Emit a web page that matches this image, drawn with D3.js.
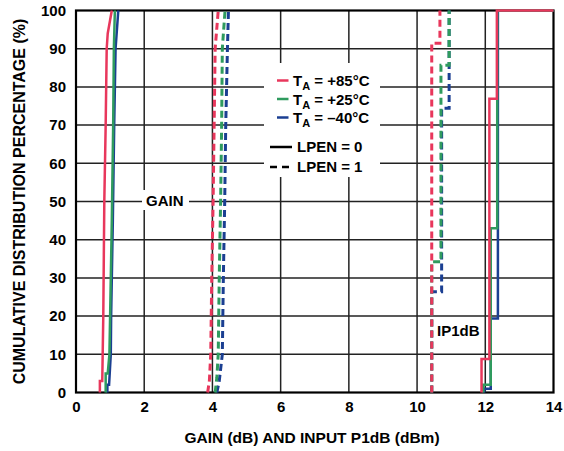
<!DOCTYPE html>
<html>
<head>
<meta charset="utf-8">
<script src="https://cdn.jsdelivr.net/npm/d3@7"></script>
<style>
  html, body { margin: 0; padding: 0; background: #fff; }
  svg { display: block; }
  text { font-family: "Liberation Sans", Arial, sans-serif; font-weight: bold; fill: #000; }
</style>
</head>
<body>
<div id="chart"></div>
<script>
// ---------- DATA ----------
const xTicks = [0, 2, 4, 6, 8, 10, 12, 14];
const yTicks = [0, 10, 20, 30, 40, 50, 60, 70, 80, 90, 100];

// GAIN, LPEN = 0 (solid)  [x (dB), cumulative %]
const gainLpen0_85 = [[0.70,0],[0.70,3],[0.77,3],[0.80,20],[0.83,50],[0.87,70],[0.90,90],[0.93,94],[1.00,97.5],[1.05,100]];
const gainLpen0_25 = [[0.87,0],[0.87,5],[0.93,5],[0.98,10],[1.00,20],[1.05,45],[1.09,70],[1.11,90],[1.14,100]];
const gainLpen0_m40 = [[0.92,0],[0.92,2],[0.97,2],[1.02,10],[1.03,20],[1.08,45],[1.12,70],[1.16,90],[1.24,100]];

// GAIN, LPEN = 1 (dashed)
const gainLpen1_85 = [[3.86,0],[3.91,3],[3.95,10],[3.98,30],[4.02,50],[4.05,70],[4.08,90],[4.17,100]];
const gainLpen1_25 = [[4.08,0],[4.13,4],[4.17,10],[4.20,30],[4.24,50],[4.27,70],[4.29,90],[4.37,100]];
const gainLpen1_m40 = [[4.13,0],[4.20,3],[4.29,10],[4.32,30],[4.36,50],[4.39,70],[4.44,90],[4.47,100]];

// IP1dB, LPEN = 1 (dashed)  [x (dBm), cumulative %]
const ip1Lpen1_85 = [[10.43,0],[10.43,91.4],[10.67,91.4],[10.67,100]];
const ip1Lpen1_25 = [[10.43,0],[10.43,34.2],[10.70,34.2],[10.70,85.7],[10.94,85.7],[10.94,100]];
const ip1Lpen1_m40 = [[10.43,0],[10.43,26.4],[10.72,26.4],[10.72,74.4],[10.94,74.4],[10.94,100]];

// IP1dB, LPEN = 0 (solid)
const ip1Lpen0_85 = [[11.89,0],[11.89,8.8],[12.12,8.8],[12.12,76.9],[12.34,76.9],[12.34,100],[14,100]];
const ip1Lpen0_25 = [[11.94,0],[11.94,2],[12.16,2],[12.16,43],[12.35,43],[12.35,100],[14,100]];
const ip1Lpen0_m40 = [[11.97,0],[11.97,1],[12.16,1],[12.16,19.4],[12.37,19.4],[12.37,100],[14,100]];

const tempLabels = ["+85°C", "+25°C", "\u201340°C"];
const tempColors = ["#e8375c", "#2f9b5e", "#1b3f92"];
const lpenLabels = ["LPEN = 0", "LPEN = 1"];

// ---------- LAYOUT ----------
const W = 564, H = 451;
const x0 = 76, x1 = 553.5, y0 = 392.5, y1 = 10.5;

const svg = d3.select("#chart").append("svg").attr("width", W).attr("height", H);

const x = d3.scaleLinear().domain([0, 14]).range([x0, x1]);
const y = d3.scaleLinear().domain([0, 100]).range([y0, y1]);

// grid
const grid = svg.append("g");
grid.selectAll("line.v").data(xTicks.slice(1, -1)).enter().append("line")
  .attr("x1", d => x(d)).attr("x2", d => x(d)).attr("y1", y0).attr("y2", y1)
  .attr("stroke", "#222").attr("stroke-width", 1.5);
grid.selectAll("line.h").data(yTicks.slice(1, -1)).enter().append("line")
  .attr("x1", x0).attr("x2", x1).attr("y1", d => y(d)).attr("y2", d => y(d))
  .attr("stroke", "#222").attr("stroke-width", 1.5);

// frame
svg.append("rect").attr("x", x0).attr("y", y1).attr("width", x1 - x0).attr("height", y0 - y1)
  .attr("fill", "none").attr("stroke", "#000").attr("stroke-width", 2.2);

// axes (labels only)
const xAxis = d3.axisBottom(x).tickValues(xTicks).tickSize(0).tickPadding(9).tickFormat(d3.format("d"));
const gx = svg.append("g").attr("transform", `translate(0,${y0})`).call(xAxis);
gx.select(".domain").remove();
gx.selectAll("text").style("font-size", "15px").style("font-family", "'Liberation Sans', Arial, sans-serif").style("font-weight", "bold").attr("fill", "#000");

const yAxis = d3.axisLeft(y).tickValues(yTicks).tickSize(0).tickPadding(10).tickFormat(d3.format("d"));
const gy = svg.append("g").attr("transform", `translate(${x0},0)`).call(yAxis);
gy.select(".domain").remove();
gy.selectAll("text").style("font-size", "15px").style("font-family", "'Liberation Sans', Arial, sans-serif").style("font-weight", "bold").attr("fill", "#000");

// annotation background boxes
svg.append("rect").attr("x", 264).attr("y", 63).attr("width", 116).attr("height", 114).attr("fill", "#fff");
svg.append("rect").attr("x", 142).attr("y", 190).attr("width", 47).attr("height", 20).attr("fill", "#fff");

// series
const line = d3.line().x(d => x(d[0])).y(d => y(d[1]));
const solidSets = [
  [gainLpen0_m40, gainLpen0_25, gainLpen0_85],
  [ip1Lpen0_m40, ip1Lpen0_25, ip1Lpen0_85]
];
const dashedSets = [
  [gainLpen1_m40, gainLpen1_25, gainLpen1_85],
  [ip1Lpen1_m40, ip1Lpen1_25, ip1Lpen1_85]
];
const colorOrder = [tempColors[2], tempColors[1], tempColors[0]];
const g = svg.append("g");
dashedSets.forEach(set => set.forEach((data, i) => {
  g.append("path").attr("d", line(data)).attr("fill", "none")
    .attr("stroke", colorOrder[i]).attr("stroke-width", 3).attr("stroke-dasharray", "7,4");
}));
solidSets.forEach(set => set.forEach((data, i) => {
  g.append("path").attr("d", line(data)).attr("fill", "none")
    .attr("stroke", colorOrder[i]).attr("stroke-width", 2.5);
}));

// legend
const lg = svg.append("g");
const rowY = [80.5, 99, 117.5];
tempLabels.forEach((t, i) => {
  lg.append("line").attr("x1", 277).attr("x2", 288.5).attr("y1", rowY[i]).attr("y2", rowY[i])
    .attr("stroke", tempColors[i]).attr("stroke-width", 2.5);
  const tx = lg.append("text").attr("x", 293).attr("y", rowY[i] + 5.5).style("font-size", "15px");
  tx.append("tspan").text("T");
  tx.append("tspan").attr("dy", 4).style("font-size", "11px").text("A");
  tx.append("tspan").attr("dy", -4).text(" = " + t);
});
const lpY = [147, 167];
lpenLabels.forEach((t, i) => {
  lg.append("line").attr("x1", 270).attr("x2", 292).attr("y1", lpY[i]).attr("y2", lpY[i])
    .attr("stroke", "#000").attr("stroke-width", 2.5)
    .attr("stroke-dasharray", i === 1 ? "7,5" : null);
  lg.append("text").attr("x", 297).attr("y", lpY[i] + 5).style("font-size", "15px").text(t);
});

// annotations
svg.append("text").attr("x", 146).attr("y", 205.5).style("font-size", "15px").text("GAIN");
svg.append("text").attr("x", 437).attr("y", 335.5).style("font-size", "15px").text("IP1dB");

// axis titles
svg.append("text").attr("x", 312).attr("y", 443).attr("text-anchor", "middle")
  .style("font-size", "15.5px").text("GAIN (dB) AND INPUT P1dB (dBm)");
svg.append("text").attr("transform", `translate(25,${(y0 + y1) / 2}) rotate(-90)`)
  .attr("text-anchor", "middle").style("font-size", "16px")
  .text("CUMULATIVE DISTRIBUTION PERCENTAGE  (%)");
</script>
</body>
</html>
